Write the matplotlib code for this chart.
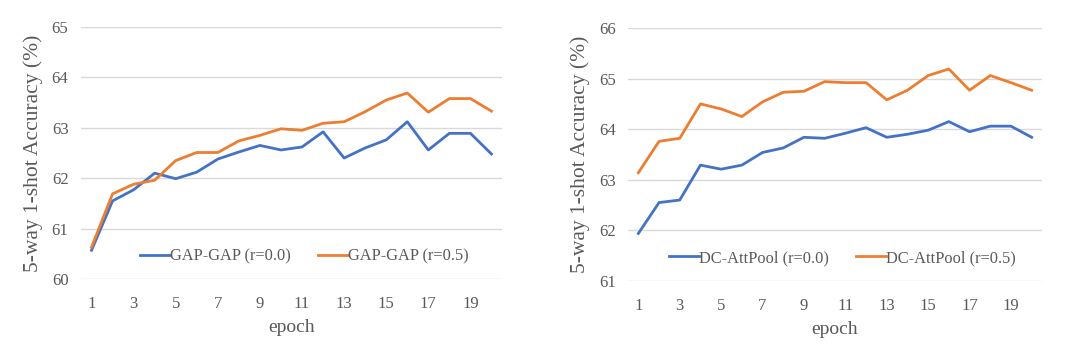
import matplotlib
matplotlib.use("Agg")
import matplotlib.pyplot as plt

epochs = list(range(1, 21))

gap_r00 = [60.57, 61.55, 61.77, 62.10, 61.99, 62.12, 62.38, 62.52, 62.65, 62.56,
           62.62, 62.92, 62.40, 62.60, 62.76, 63.12, 62.56, 62.89, 62.89, 62.48]
gap_r05 = [60.63, 61.69, 61.88, 61.96, 62.35, 62.51, 62.51, 62.74, 62.85, 62.98,
           62.95, 63.09, 63.12, 63.32, 63.55, 63.69, 63.31, 63.58, 63.58, 63.33]

dc_r00 = [61.94, 62.55, 62.60, 63.29, 63.21, 63.29, 63.54, 63.63, 63.84, 63.82,
          63.92, 64.03, 63.84, 63.90, 63.98, 64.15, 63.95, 64.06, 64.06, 63.84]
dc_r05 = [63.14, 63.76, 63.82, 64.50, 64.40, 64.25, 64.54, 64.73, 64.75, 64.94,
          64.92, 64.92, 64.58, 64.77, 65.06, 65.19, 64.77, 65.06, 64.92, 64.77]

xtick_labels = [str(e) for e in epochs[::2]]
left_labels = ["GAP-GAP (r=0.0)", "GAP-GAP (r=0.5)"]
right_labels = ["DC-AttPool (r=0.0)", "DC-AttPool (r=0.5)"]
ylabel = "5-way 1-shot Accuracy (%)"
xlabel = "epoch"

BLUE = "#4472C4"
ORANGE = "#ED7D31"
GRID = "#D9D9D9"
TXT = "#595959"

plt.rcParams['font.family'] = ['Liberation Serif', 'DejaVu Serif']

W, H = 1082, 346
fig = plt.figure(figsize=(W / 100, H / 100), dpi=100)

def make_ax(x0, x1, ytop, ybot):
    return fig.add_axes([x0 / W, 1 - ybot / H, (x1 - x0) / W, (ybot - ytop) / H])

ax1 = make_ax(81, 502, 27, 279)
ax2 = make_ax(628, 1042, 28, 281)

def style(ax, s0, s1, labels, ylim, legx):
    ax.plot(epochs, s0, color=BLUE, lw=2.0, label=labels[0])
    ax.plot(epochs, s1, color=ORANGE, lw=2.0, label=labels[1])
    ax.set_xlim(0.5, 20.5)
    ax.set_ylim(*ylim)
    ax.set_yticks(range(ylim[0], ylim[1] + 1))
    ax.set_xticks(epochs[::2])
    ax.set_xticklabels(xtick_labels)
    for s in ax.spines.values():
        s.set_visible(False)
    ax.grid(axis='y', color=GRID, lw=1.0)
    ax.set_axisbelow(True)
    ax.tick_params(length=0, labelsize=12, colors=TXT)
    ax.tick_params(axis='x', pad=12)
    ax.tick_params(axis='y', pad=9)
    ax.set_xlabel(xlabel, fontsize=14, color=TXT, labelpad=5)
    ax.set_ylabel(ylabel, fontsize=15.5, color=TXT, labelpad=6)
    ax.legend(loc='center', bbox_to_anchor=(legx, 0.09), ncol=2,
              frameon=False, fontsize=11.8, handlelength=1.8,
              handletextpad=0.0, columnspacing=1.7, labelcolor=TXT,
              borderpad=0)

style(ax1, gap_r00, gap_r05, left_labels, (60, 65), 0.53)
style(ax2, dc_r00, dc_r05, right_labels, (61, 66), 0.518)

fig.savefig("out.png", dpi=100)
